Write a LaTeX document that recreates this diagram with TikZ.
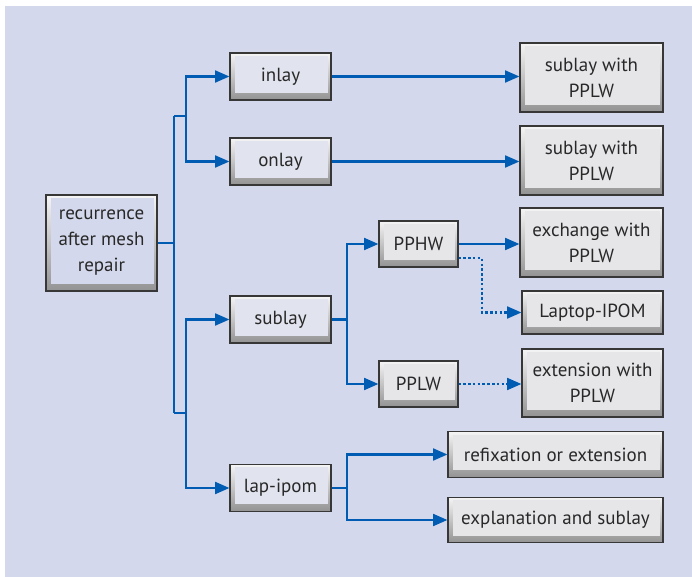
\documentclass[tikz,border=0pt]{standalone}
\usepackage{fontspec}
\setmainfont{PT Sans}
\usetikzlibrary{positioning,arrows.meta,calc}
\definecolor{panel}{RGB}{212,216,236}
\definecolor{facegrey}{RGB}{230,230,233}
\definecolor{facelav}{RGB}{225,227,238}
\definecolor{rim}{RGB}{55,55,55}
\definecolor{linkblue}{RGB}{0,92,178}
\definecolor{ink}{RGB}{40,40,40}
\tikzset{
  bevel/.style={rectangle,draw=rim,line width=0.8pt,top color=gray!8,bottom color=gray!85,align=center,text=ink,
    font=\fontsize{13.5}{18.5}\selectfont,inner sep=2pt,
    path picture={\fill[#1] ([shift={(3.5pt,-2pt)}]path picture bounding box.north west) rectangle ([shift={(-2pt,5pt)}]path picture bounding box.south east);}},
  rootbox/.style={bevel=panel,minimum width=2.775cm,minimum height=2.4cm,
    append after command={\pgfextra{\draw[white,line width=1pt,dash pattern=on 1.5pt off 1.2pt] ([shift={(3pt,-1.5pt)}]\tikzlastnode.north west) -- ([shift={(-3pt,-1.5pt)}]\tikzlastnode.north east);}}},
  stagebox/.style={bevel=facelav,minimum width=2.525cm,minimum height=1.175cm},
  wirebox/.style={bevel=facegrey,minimum width=1.975cm,minimum height=1.15cm},
  endbox/.style={bevel=facegrey,minimum width=3.575cm,minimum height=1.725cm},
  widebox/.style={bevel=facegrey,minimum width=5.375cm,minimum height=1.14cm},
  link/.style={draw=linkblue,line width=1.5pt},
  arrow/.style={link,-{Triangle[length=0.36cm,width=0.3cm]}},
  dotarrow/.style={arrow,dash pattern=on 1.8pt off 1.6pt}
}
\begin{document}
\begin{tikzpicture}[x=0.025cm,y=-0.025cm]
  \useasboundingbox (0,0) rectangle (692,577);
  \fill[panel] (5,6) rectangle (692,577);

  % boxes
  \node[rootbox] (root) at (101.5,243) {recurrence\\after mesh\\repair};
  \node[stagebox] (inlay) at (280.5,76.5) {inlay};
  \node[stagebox] (onlay) at (280.5,161.5) {onlay};
  \node[stagebox] (sublay) at (280.5,319.5) {sublay};
  \node[stagebox] (lapipom) at (280.5,488) {lap-ipom};
  \node[wirebox] (pphw) at (418.5,244) {PPHW};
  \node[wirebox] (pplw) at (418.5,384) {PPLW};
  \node[endbox] (subA) at (591.5,77.5) {sublay with\\PPLW};
  \node[endbox] (subB) at (591.5,160.5) {sublay with\\PPLW};
  \node[endbox] (exch) at (591.5,242.5) {exchange with\\PPLW};
  \node[endbox,minimum width=3.525cm,minimum height=1.075cm] (laptop) at (592.5,312.5) {Laptop-IPOM};
  \node[endbox,minimum width=3.525cm,minimum height=1.7cm] (ext) at (592.5,383) {extension with\\PPLW};
  \node[widebox] (refix) at (555.5,454.5) {refixation or extension};
  \node[widebox] (expl) at (555.5,520) {explanation and sublay};

  % trunk
  \coordinate (tA) at (174,116);
  \coordinate (tB) at (174,413);
  \draw[link] (tA) -- (tB);
  \draw[link] (root.east) -- (root.east -| tA);
  \draw[arrow] (tA) -- ++(12,0) |- (inlay);
  \draw[arrow] (tA) -- ++(12,0) |- (onlay);
  \draw[arrow] (tB) -- ++(12,0) |- (sublay);
  \draw[arrow] (tB) -- ++(12,0) |- (lapipom);

  % branches
  \draw[arrow] (inlay.east) -- (inlay.east -| subA.west);
  \draw[arrow] (onlay.east) -- (onlay.east -| subB.west);
  \draw[arrow] (sublay.east) -- ++(15,0) |- (pphw);
  \draw[arrow] (sublay.east) -- ++(15,0) |- (pplw);
  \draw[arrow] (pphw.east) -- (pphw.east -| exch.west);
  \draw[dotarrow] ($(pphw.east)+(0,14)$) -- ++(23,0) |- (laptop);
  \draw[dotarrow] (pplw.east) -- (pplw.east -| ext.west);
  \draw[arrow] (lapipom.east) -- ++(15,0) |- (refix);
  \draw[arrow] (lapipom.east) -- ++(15,0) |- (expl);
\end{tikzpicture}
\end{document}
